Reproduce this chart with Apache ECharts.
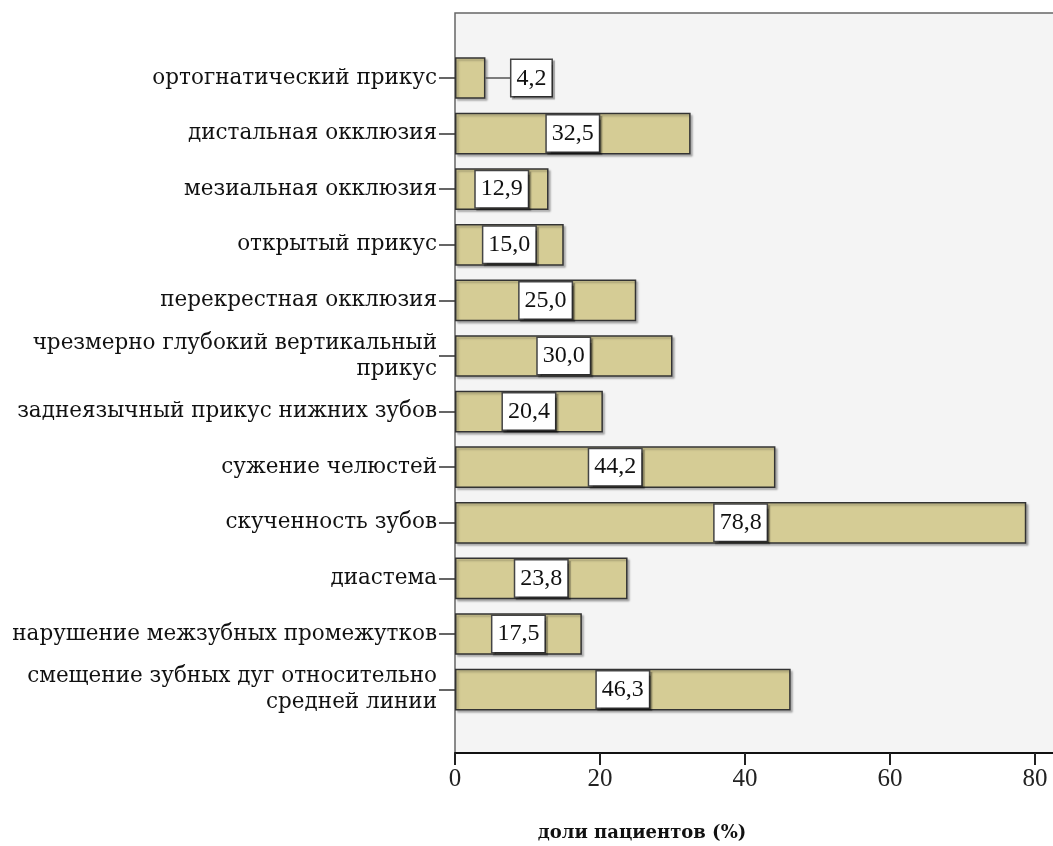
<!DOCTYPE html>
<html>
<head>
<meta charset="utf-8">
<script src="https://cdn.jsdelivr.net/npm/echarts@6/dist/echarts.min.js"></script>
<style>html,body{margin:0;padding:0;background:#fff;}#chart{width:1053px;height:846px;}</style>
</head>
<body>
<div id="chart"></div>
<script>
const categories = [
  'ортогнатический прикус',
  'дистальная окклюзия',
  'мезиальная окклюзия',
  'открытый прикус',
  'перекрестная окклюзия',
  'чрезмерно глубокий вертикальный\nприкус',
  'заднеязычный прикус нижних зубов',
  'сужение челюстей',
  'скученность зубов',
  'диастема',
  'нарушение межзубных промежутков',
  'смещение зубных дуг относительно\nсредней линии'
];
const values = [4.2, 32.5, 12.9, 15.0, 25.0, 30.0, 20.4, 44.2, 78.8, 23.8, 17.5, 46.3];
const xTicks = [0, 20, 40, 60, 80];
const xAxisTitle = 'доли пациентов (%)';

const serif = '"DejaVu Serif", "Liberation Serif", serif';
const chart = echarts.init(document.getElementById('chart'));
const fmt = v => v.toFixed(1).replace('.', ',');

const boxStyle = {
  fontFamily: '"Liberation Serif", serif', fontSize: 24, color: '#111',
  backgroundColor: '#fff', borderColor: '#444', borderWidth: 1.5,
  padding: [7, 5, 5, 5],
  shadowColor: 'rgba(0,0,0,0.35)', shadowOffsetX: 2, shadowOffsetY: 2, shadowBlur: 1
};

const barData = values.map(v => {
  if (v < 8) {
    return {
      value: v,
      label: {
        position: 'right', distance: 0,
        backgroundColor: 'transparent', borderWidth: 0, padding: 0, shadowColor: 'transparent',
        formatter: p => '{ln|}{box|' + fmt(p.value) + '}',
        rich: {
          ln: { width: 26, height: 1.5, backgroundColor: '#555', verticalAlign: 'middle' },
          box: Object.assign({ verticalAlign: 'middle' }, boxStyle)
        }
      }
    };
  }
  return v;
});

const AX_MAX = 84.14;

chart.setOption({
  animation: false,
  backgroundColor: '#fff',
  grid: [
    { left: 455, right: -12, top: 13, bottom: 93, outerBoundsMode: 'none', containLabel: false,
      show: true, backgroundColor: '#f4f4f4', borderColor: '#666', borderWidth: 1.5 },
    { left: 455, right: -12, top: 50.2, bottom: 128.6, outerBoundsMode: 'none', containLabel: false }
  ],
  xAxis: [
    {
      gridIndex: 0, type: 'value', min: 0, max: AX_MAX, interval: 20,
      axisLine: { show: true, lineStyle: { color: '#111', width: 2 } },
      axisTick: { show: true, length: 12, lineStyle: { color: '#222', width: 2 } },
      axisLabel: { margin: 14, fontFamily: '"Liberation Serif", serif', fontSize: 25, color: '#222',
        formatter: v => xTicks.includes(v) ? String(v) : '' },
      splitLine: { show: false }
    },
    { gridIndex: 1, type: 'value', min: 0, max: AX_MAX, show: false }
  ],
  yAxis: [
    { gridIndex: 0, type: 'value', show: false },
    {
      gridIndex: 1, type: 'category', data: categories, inverse: true,
      axisLine: { show: false },
      axisTick: { show: true, alignWithLabel: true, length: 16, lineStyle: { color: '#333', width: 1.5 } },
      axisLabel: { margin: 18, fontFamily: serif, fontSize: 21.5, color: '#111', lineHeight: 26, align: 'right' }
    }
  ],
  series: [{
    type: 'bar', xAxisIndex: 1, yAxisIndex: 1,
    data: barData,
    barCategoryGap: '25%',
    itemStyle: { color: '#d5cc95', borderColor: '#333', borderWidth: 1.5,
      shadowColor: 'rgba(0,0,0,0.25)', shadowOffsetX: 2, shadowOffsetY: 2, shadowBlur: 2 },
    label: Object.assign({
      show: true, position: 'inside', formatter: p => fmt(p.value)
    }, boxStyle)
  }],
  graphic: [{
    type: 'text', x: 642, y: 833,
    style: { text: xAxisTitle, font: 'bold 18px ' + serif, fill: '#111', align: 'center', verticalAlign: 'middle' }
  }]
});
</script>
</body>
</html>
